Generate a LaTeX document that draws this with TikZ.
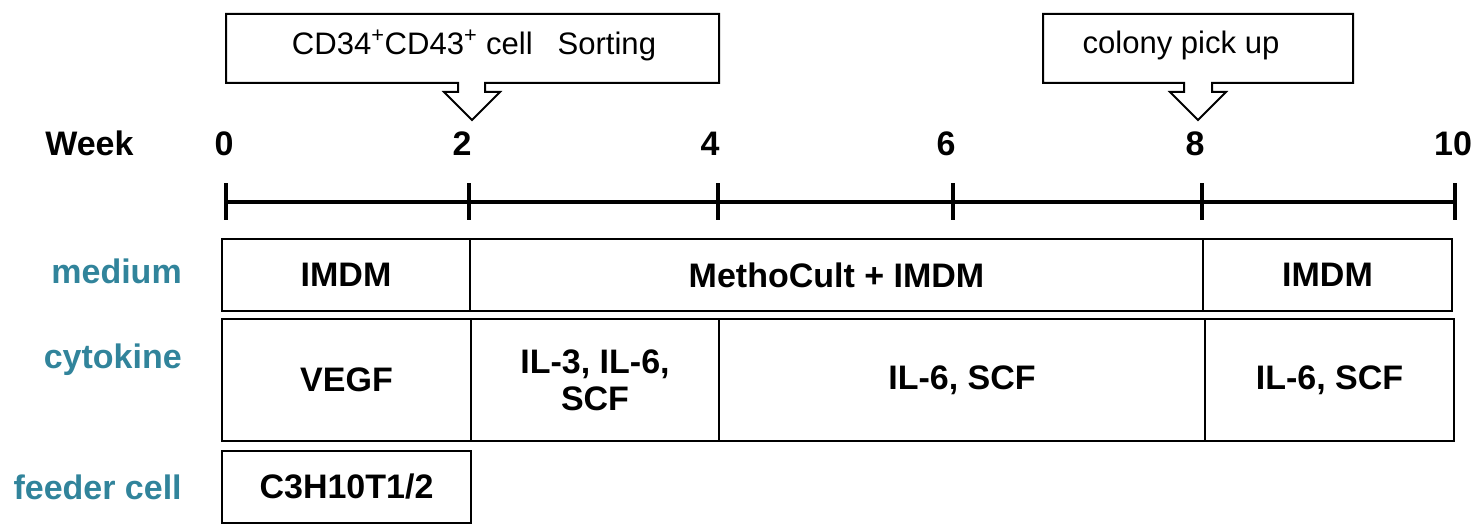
\documentclass[tikz,border=0pt]{standalone}
\usepackage{fontspec}
\setmainfont{Liberation Sans}
\definecolor{rowteal}{RGB}{49,132,155}
\begin{document}
\begin{tikzpicture}[x=0.75pt,y=-0.75pt,
  cell/.style={draw,line width=1.5pt,inner sep=0pt,anchor=north west,align=center,
    font=\fontsize{25.5}{28}\selectfont\bfseries},
  rowlab/.style={anchor=base east,text=rowteal,inner sep=0pt,
    font=\fontsize{25.5}{30}\selectfont\bfseries},
  wk/.style={anchor=base,inner sep=0pt,font=\fontsize{25.5}{30}\selectfont\bfseries},
  callout/.style={draw,line width=1.5pt,fill=white,line join=miter},
  ctext/.style={inner sep=0pt,font=\fontsize{23.3}{28}\selectfont},
  axisline/.style={line width=2.5pt}]
\useasboundingbox (0,0) rectangle (1478,531);

% callouts
\draw[callout] (226,14) -- (719,14) -- (719,83) -- (485,83) -- (485,92) -- (500,92)
  -- (472,120) -- (444,92) -- (458,92) -- (458,83) -- (226,83) -- cycle;
\node[ctext] (sort) at (474,45) {CD34\textsuperscript{+}CD43\textsuperscript{+} cell\hspace{0.8em}Sorting};
\draw[callout] (1043,14) -- (1353,14) -- (1353,83) -- (1212,83) -- (1212,92) -- (1226,92)
  -- (1198,120) -- (1170,92) -- (1184,92) -- (1184,83) -- (1043,83) -- cycle;
\node[ctext] (pick) at (1181,45) {colony pick up};

% week labels
\node[wk,anchor=base west] (week) at (45,156) {Week};
\node[wk] (w0) at (224,156) {0};
\node[wk] (w2) at (462,156) {2};
\node[wk] (w4) at (710,156) {4};
\node[wk] (w6) at (946,156) {6};
\node[wk] (w8) at (1195,156) {8};
\node[wk] (w10) at (1453,156) {10};

% axis
\coordinate (t0) at (226,202);
\coordinate (t2) at (469,202);
\coordinate (t4) at (718,202);
\coordinate (t6) at (953,202);
\coordinate (t8) at (1202,202);
\coordinate (t10) at (1455,202);
\draw[axisline] (t0) -- (t10);
\foreach \t in {t0,t2,t4,t6,t8,t10}
  \draw[axisline] ([yshift=14pt]\t) -- ([yshift=-13.5pt]\t);

% row labels
\node[rowlab] (lmed) at (182,283) {medium};
\node[rowlab] (lcyt) at (182,368) {cytokine};
\node[rowlab] (lfeed) at (182,499) {feeder cell};

% medium row
\node[cell,minimum width=248*0.75pt,minimum height=72*0.75pt] (m1) at (221,238) {IMDM};
\node[cell,minimum width=733*0.75pt,minimum height=72*0.75pt] (m2) at (469,238) {MethoCult + IMDM};
\node[cell,minimum width=249*0.75pt,minimum height=72*0.75pt] (m3) at (1202,238) {IMDM};

% cytokine row
\node[cell,minimum width=249*0.75pt,minimum height=122*0.75pt] (c1) at (221,318) {VEGF};
\node[cell,minimum width=248*0.75pt,minimum height=122*0.75pt] (c2) at (470,318) {IL-3, IL-6,\\SCF};
\node[cell,minimum width=486*0.75pt,minimum height=122*0.75pt] (c3) at (718,318) {IL-6, SCF};
\node[cell,minimum width=249*0.75pt,minimum height=122*0.75pt] (c4) at (1204,318) {IL-6, SCF};

% feeder row
\node[cell,minimum width=249*0.75pt,minimum height=72*0.75pt] (f1) at (221,450) {C3H10T1/2};
\end{tikzpicture}
\end{document}
